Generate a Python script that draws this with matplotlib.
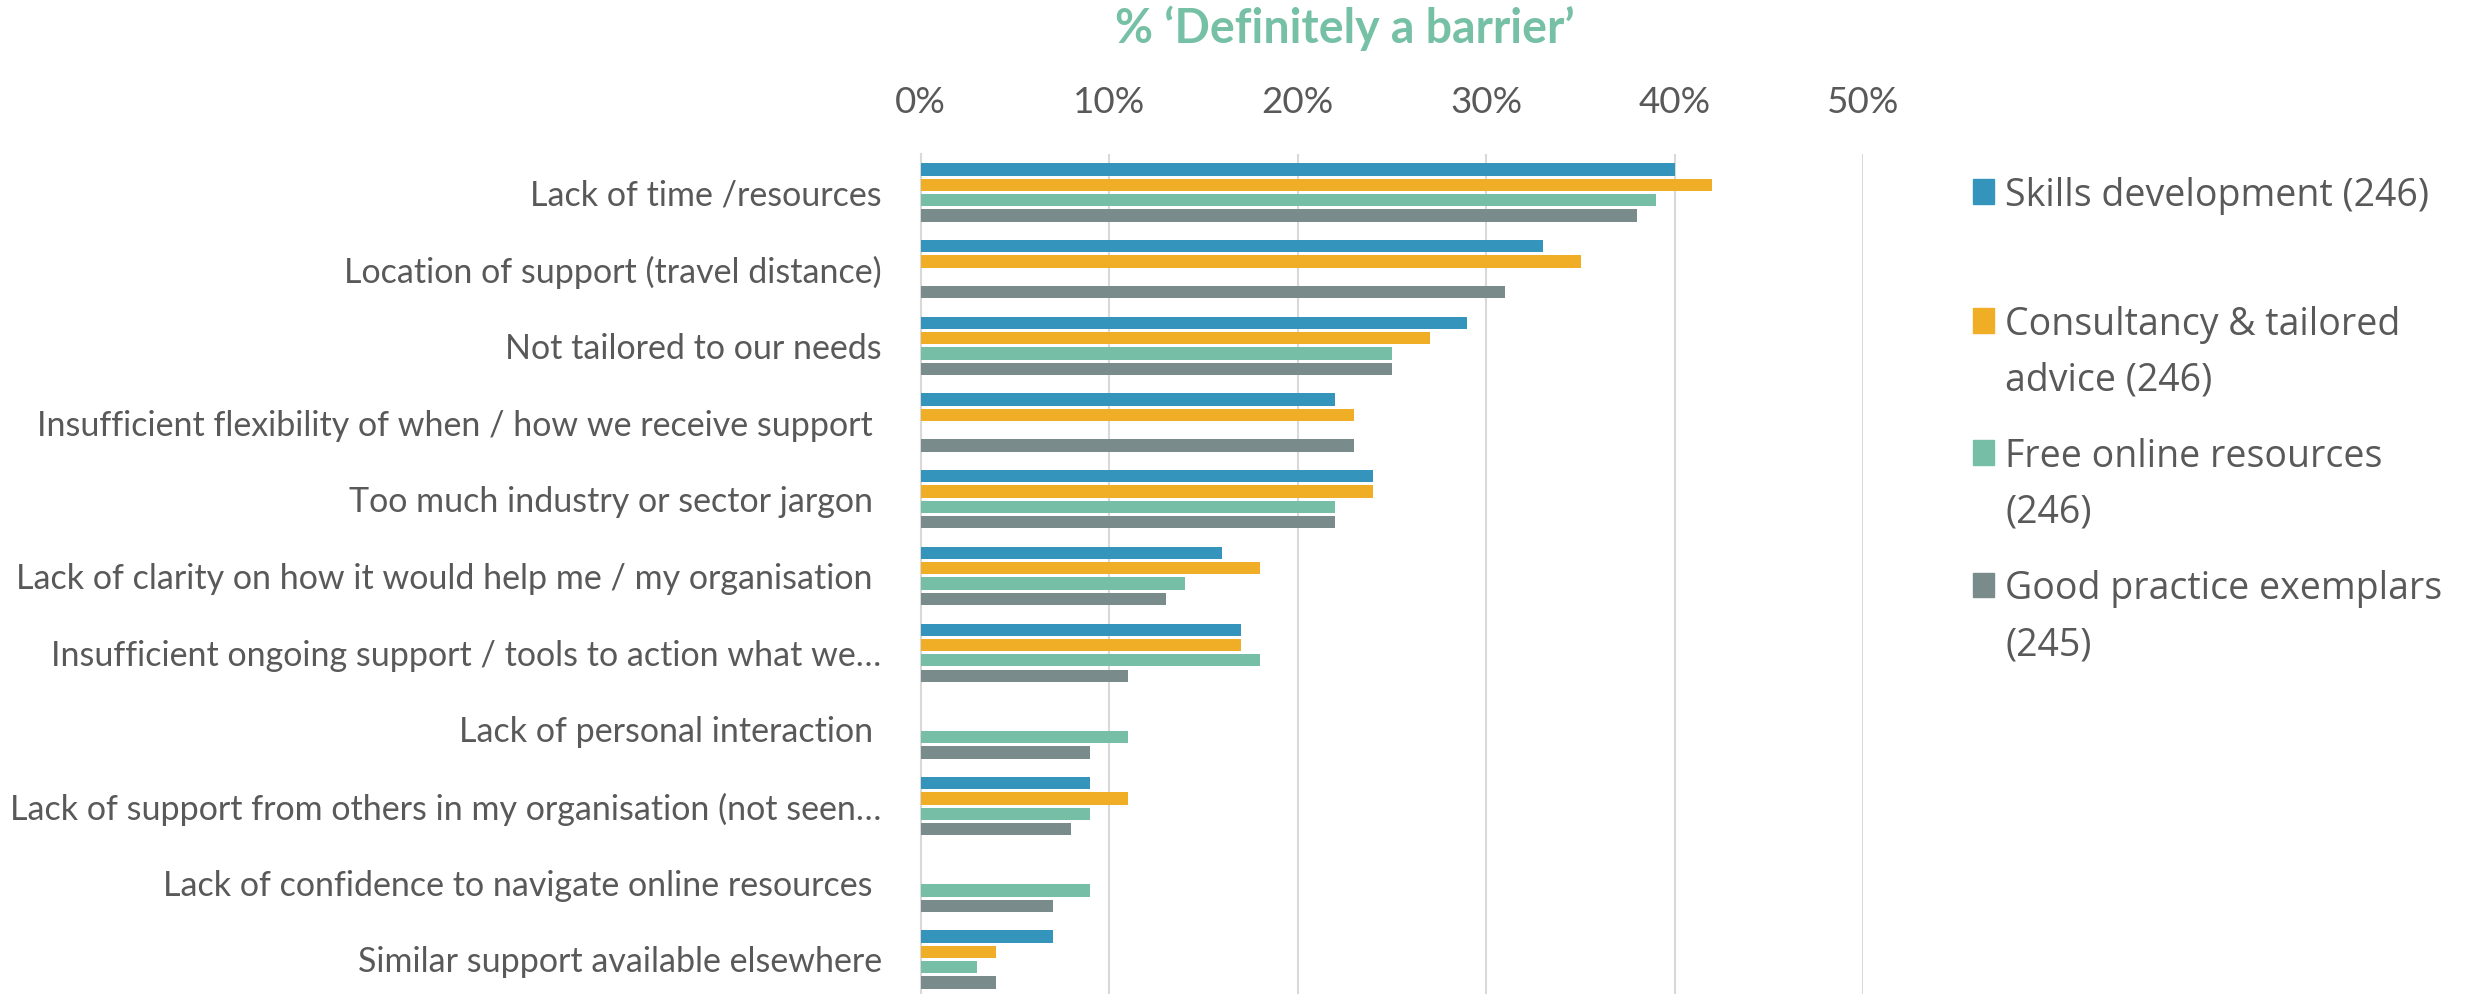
import matplotlib.pyplot as plt
import numpy as np
from matplotlib.patches import Rectangle

categories = [
    'Lack of time /resources',
    'Location of support (travel distance)',
    'Not tailored to our needs',
    'Insufficient flexibility of when / how we receive support ',
    'Too much industry or sector jargon ',
    'Lack of clarity on how it would help me / my organisation ',
    'Insufficient ongoing support / tools to action what we\u2026',
    'Lack of personal interaction ',
    'Lack of support from others in my organisation (not seen\u2026',
    'Lack of confidence to navigate online resources ',
    'Similar support available elsewhere',
]

series_names = [
    'Skills development (246)',
    'Consultancy & tailored\nadvice (246)',
    'Free online resources\n(246)',
    'Good practice exemplars\n(245)',
]

skills      = [40, 33, 29, 22, 24, 16, 17, np.nan, 9, np.nan, 7]
consultancy = [42, 35, 27, 23, 24, 18, 17, np.nan, 11, np.nan, 4]
online      = [39, np.nan, 25, np.nan, 22, 14, 18, 11, 9, 9, 3]
exemplars   = [38, 31, 25, 23, 22, 13, 11, 9, 8, 7, 4]

colors = ['#3594bb', '#f0ae27', '#76bea5', '#7a8b8c']
text_col = '#595959'

plt.rcParams['font.family'] = ['Lato', 'DejaVu Sans']

fig = plt.figure(figsize=(24.68, 9.94), dpi=100)
ax = fig.add_axes([0.373, 0.0, 0.382, 0.845])

y = np.arange(len(categories))
slot = 0.2
for i, vals in enumerate([skills, consultancy, online, exemplars]):
    ax.barh(y - 0.3 + i * slot, vals, height=slot * 0.8, color=colors[i], zorder=3)

ax.set_xlim(0, 50)
ax.set_ylim(10.45, -0.5)
ax.set_xticks(range(0, 51, 10))
ax.set_xticklabels([f'{t}%' for t in range(0, 51, 10)])
ax.xaxis.tick_top()
ax.set_yticks(y)
ax.set_yticklabels(categories)
ax.tick_params(axis='x', length=0, pad=25, labelsize=26.5, colors=text_col)
ax.tick_params(axis='y', length=0, pad=28, labelsize=24.5, colors=text_col)
ax.grid(axis='x', color='#d9d9d9', linewidth=1.5, zorder=0)
for s in ['top', 'right', 'bottom']:
    ax.spines[s].set_visible(False)
ax.spines['left'].set_color('#d9d9d9')
ax.spines['left'].set_linewidth(1.5)

fig.text(0.545, 0.972, '% \u2018Definitely a barrier\u2019', ha='center', va='center',
         fontsize=33.5, fontweight='bold', color='#76c0a6')

# legend drawn by hand so the swatch sits on the first line
leg_y = [0.807, 0.677, 0.544, 0.411]
line_step = 0.056
for name, c, ly in zip(series_names, colors, leg_y):
    fig.patches.append(Rectangle((0.7995, ly - 0.012), 0.0085, 0.025,
                                 transform=fig.transFigure, color=c))
    for k, line in enumerate(name.split('\n')):
        fig.text(0.8125, ly - 0.004 - k * line_step, line, ha='left', va='center',
                 fontsize=27, color=text_col, family=['Open Sans', 'DejaVu Sans'])

plt.savefig('out.png')
